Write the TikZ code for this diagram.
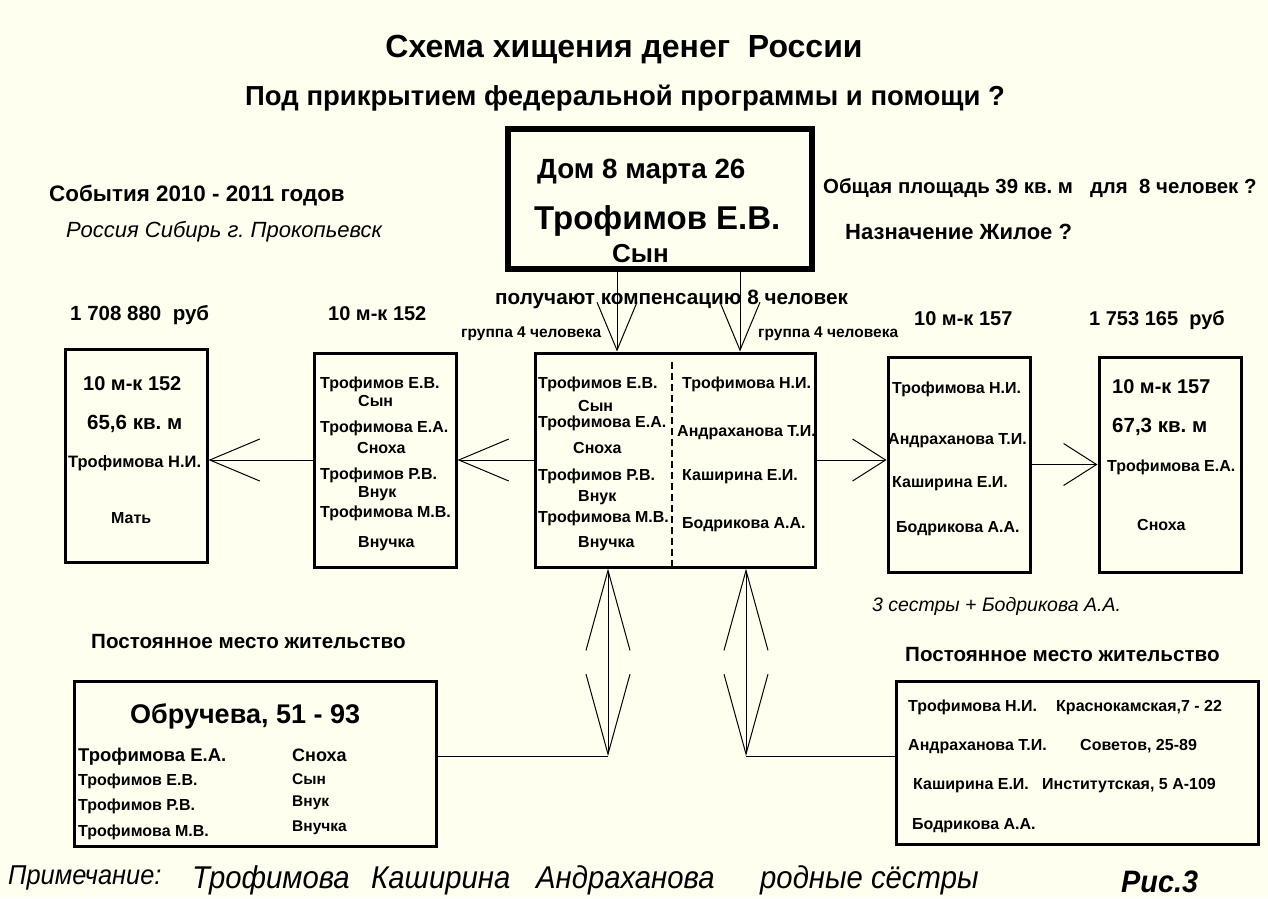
\documentclass[tikz,border=0pt]{standalone}
\usepackage{fontspec}
\setmainfont{Liberation Sans}
\newfontfamily\narrowit{Liberation Sans}[FakeStretch=0.93]
\usepackage{tikz}
\usetikzlibrary{arrows.meta, positioning}
\definecolor{paper}{RGB}{255,255,240}
\newcommand{\fsz}[1]{\fontsize{#1}{#1}\selectfont}
\frenchspacing
\tikzset{
  ctr/.style={anchor=base, inner sep=0pt, yshift={-0.36*#1pt}, font=\bfseries\fsz{#1}},
  lbl/.style={anchor=base west, inner sep=0pt, yshift={-0.36*#1pt}, font=\bfseries\fsz{#1}},
  ilbl/.style={anchor=base west, inner sep=0pt, yshift={-0.36*#1pt}, font=\itshape\fsz{#1}},
  nlbl/.style={anchor=base west, inner sep=0pt, yshift={-0.36*#1pt}, font=\narrowit\itshape\fsz{#1}},
  box/.style={draw, line width=3pt, inner sep=0pt},
  arrS/.style={line width=1pt, -{Straight Barb[length=50pt,width=42pt]}},
  arrR/.style={line width=1pt, -{Straight Barb[length=33pt,width=42pt]}},
  arrT/.style={line width=1pt, -{Straight Barb[length=48pt,width=40pt]}},
  arrV/.style={line width=1pt, {Straight Barb[length=80pt,width=44pt]}-{Straight Barb[length=80pt,width=44pt]}},
  divline/.style={line width=2.5pt, dash pattern=on 7pt off 4pt}
}
\begin{document}
\begin{tikzpicture}[x=1pt,y=-1pt]

\fill[paper] (0,0) rectangle (1268,898);
\useasboundingbox (0,0) rectangle (1268,898);

% titles
\node[ctr=32] (title) at (624,46) {Схема хищения денег\ \ России};
\node[ctr=27.5] (subtitle) at (625,96) {Под прикрытием федеральной программы и помощи ?};

% house
\node[box, line width=6pt, minimum width=304pt, minimum height=140pt] (dom) at (660,199) {};
\node[lbl=27.8] (domname) at (537,168) {Дом 8 марта 26};
\node[lbl=33] (domowner) at (534,218) {Трофимов Е.В.};
\node[lbl=26] (domson) at (612,253) {Сын};

\node[lbl=22.4] (events) at (49,193) {События 2010 - 2011 годов};
\node[ilbl=22] (place) at (66,230) {Россия Сибирь г. Прокопьевск};
\node[lbl=20.4] (area) at (823,186) {Общая площадь 39 кв. м\ \ \ для\ \ 8 человек ?};
\node[lbl=22] (purpose) at (845,232) {Назначение Жилое ?};
\node[lbl=20.7] (comp) at (495,297) {получают компенсацию 8 человек};
\node[lbl=15.5] (grpl) at (461,332) {группа 4 человека};
\node[lbl=15.5] (grpr) at (758,332) {группа 4 человека};

\node[lbl=20.5] (sumleft) at (70,313) {1 708 880\ \ руб};
\node[lbl=20] (flatleft) at (328,313) {10 м-к 152};
\node[lbl=20] (flatright) at (914,318) {10 м-к 157};
\node[lbl=20] (sumright) at (1089,318) {1 753 165\ \ руб};

% boxes of the middle row
\node[box, minimum width=142pt, minimum height=213pt] (kv152) at (136,455.5) {};
\node[box, minimum width=142pt, minimum height=214pt] (fam) at (385,460) {};
\node[box, minimum width=280pt, minimum height=214pt] (cen) at (675,460) {};
\node[box, minimum width=142pt, minimum height=215pt] (sis) at (959,464.5) {};
\node[box, minimum width=142pt, minimum height=215pt] (kv157) at (1170,464.5) {};

\node[lbl=20] (a1) at (83,383) {10 м-к 152};
\node[lbl=20.5] (a2) at (87,422) {65,6 кв. м};
\node[lbl=16.5] (a3) at (68,462) {Трофимова Н.И.};
\node[lbl=16] (a4) at (111,518) {Мать};

\node[lbl=16] (b1) at (320,383) {Трофимов Е.В.};
\node[lbl=16] (b2) at (358,401) {Сын};
\node[lbl=16] (b3) at (320,427) {Трофимова Е.А.};
\node[lbl=16] (b4) at (357,448) {Сноха};
\node[lbl=16] (b5) at (320,474) {Трофимов Р.В.};
\node[lbl=16] (b6) at (358,492) {Внук};
\node[lbl=16] (b7) at (320,512) {Трофимова М.В.};
\node[lbl=16] (b8) at (358,542) {Внучка};

\node[lbl=16] (c1) at (538,383) {Трофимов Е.В.};
\node[lbl=16] (c2) at (578,406) {Сын};
\node[lbl=16] (c3) at (538,422) {Трофимова Е.А.};
\node[lbl=16] (c4) at (573,448) {Сноха};
\node[lbl=16] (c5) at (538,475) {Трофимов Р.В.};
\node[lbl=16] (c6) at (578,496) {Внук};
\node[lbl=16] (c7) at (538,517) {Трофимова М.В.};
\node[lbl=16] (c8) at (578,542) {Внучка};
\node[lbl=16] (d1) at (682,383) {Трофимова Н.И.};
\node[lbl=16] (d2) at (677,431) {Андраханова Т.И.};
\node[lbl=16] (d3) at (682,475) {Каширина Е.И.};
\node[lbl=16] (d4) at (682,523) {Бодрикова А.А.};

\node[lbl=16] (e1) at (892,388) {Трофимова Н.И.};
\node[lbl=16] (e2) at (888,439) {Андраханова Т.И.};
\node[lbl=16] (e3) at (892,482) {Каширина Е.И.};
\node[lbl=16] (e4) at (896,527) {Бодрикова А.А.};

\node[lbl=20] (f1) at (1112,386) {10 м-к 157};
\node[lbl=20.5] (f2) at (1112,425) {67,3 кв. м};
\node[lbl=16] (f3) at (1107,466) {Трофимова Е.А.};
\node[lbl=16] (f4) at (1137,525) {Сноха};

\node[ilbl=19.5] (sisters) at (872,604) {3 сестры + Бодрикова А.А.};

% dashed split of the middle box
\coordinate (dv) at (672,362);
\draw[divline] (dv) -- (dv |- cen.south);

% arrows of the middle row
\draw[arrS] (fam.west) -- (fam.west -| kv152.east);
\draw[arrS] (cen.west) -- (cen.west -| fam.east);
\draw[arrR] (cen.east) -- (cen.east -| sis.west);
\draw[arrR] (sis.east) -- (sis.east -| kv157.west);

\coordinate (t1) at (617,0);
\coordinate (t2) at (740,0);
\draw[arrT] (dom.south -| t1) -- (cen.north -| t1);
\draw[arrT] (dom.south -| t2) -- (cen.north -| t2);

% permanent residence
\node[lbl=20.6] (resl) at (91,641) {Постоянное место жительство};
\node[lbl=20.6] (resr) at (905,654) {Постоянное место жительство};

\node[box, minimum width=362pt, minimum height=165pt] (obr) at (255,763.5) {};
\node[lbl=27] (obrname) at (130,714) {Обручева, 51 - 93};
\node[lbl=18.5] (g1) at (78,755) {Трофимова Е.А.};
\node[lbl=16] (g2) at (78,780) {Трофимов Е.В.};
\node[lbl=16] (g3) at (78,805) {Трофимов Р.В.};
\node[lbl=16] (g4) at (78,831) {Трофимова М.В.};
\node[lbl=18] (h1) at (292,755) {Сноха};
\node[lbl=15.5] (h2) at (292,779) {Сын};
\node[lbl=15.5] (h3) at (292,801) {Внук};
\node[lbl=15.5] (h4) at (292,826) {Внучка};

\node[box, minimum width=362pt, minimum height=163pt] (addr) at (1077,762.5) {};
\node[lbl=16] (k1) at (908,706) {Трофимова Н.И.};
\node[lbl=16] (k2) at (908,745) {Андраханова Т.И.};
\node[lbl=16] (k3) at (913,784) {Каширина Е.И.};
\node[lbl=16] (k4) at (912,824) {Бодрикова А.А.};
\node[lbl=16] (m1) at (1056,706) {Краснокамская,7 - 22};
\node[lbl=16] (m2) at (1080,745) {Советов, 25-89};
\node[lbl=16] (m3) at (1042,784) {Институтская, 5 А-109};

\coordinate (j1) at (608,756);
\coordinate (j2) at (746,756);
\draw[arrV] (cen.south -| j1) -- (j1);
\draw[arrV] (cen.south -| j2) -- (j2);
\draw[line width=1pt] (j1) -- (j1 -| obr.east);
\draw[line width=1pt] (j2) -- (j2 -| addr.west);

% note
\node[nlbl=27.3] (note) at (8,875) {Примечание:};
\node[nlbl=31.5] (n1) at (192,877) {Трофимова};
\node[nlbl=31.5] (n2) at (371,877) {Каширина};
\node[nlbl=31.5] (n3) at (536,877) {Андраханова};
\node[nlbl=31.5] (n4) at (760,877) {родные сёстры};
\node[nlbl=31, font=\narrowit\bfseries\itshape\fsz{31}] (fig) at (1121,881) {Рис.3};

\end{tikzpicture}
\end{document}
